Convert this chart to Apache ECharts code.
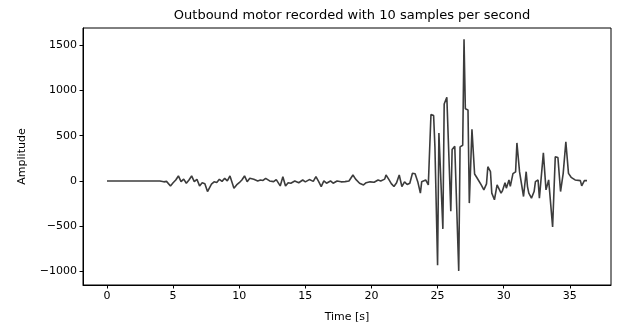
<!DOCTYPE html>
<html>
<head>
<meta charset="utf-8">
<script src="https://cdn.jsdelivr.net/npm/echarts@6/dist/echarts.min.js"></script>
<style>
html,body{margin:0;padding:0;background:#fff;}
#chart{width:617px;height:329px;}
</style>
</head>
<body>
<div id="chart"></div>
<script>
// Time stamps (s) of the vertices read from the recording
const times = [
  0.0, 4.0, 4.3, 4.5, 4.8, 5.0, 5.2, 5.4, 5.6, 5.8, 6.0, 6.2, 6.4, 6.6, 6.8, 7.0, 7.2, 7.4, 7.6, 7.9,
  8.1, 8.3, 8.5, 8.7, 8.9, 9.1, 9.3, 9.6, 9.8, 10.0, 10.2, 10.4, 10.6, 10.8, 11.1, 11.4, 11.6, 11.8, 12.0, 12.3,
  12.6, 12.8, 13.1, 13.3, 13.5, 13.7, 13.9, 14.2, 14.5, 14.8, 15.0, 15.3, 15.6, 15.8, 16.0, 16.2, 16.4, 16.6, 16.9, 17.1,
  17.4, 17.7, 18.0, 18.3, 18.6, 18.8, 18.9, 19.1, 19.4, 19.6, 19.9, 20.2, 20.5, 20.7, 21.0, 21.1, 21.3, 21.5, 21.7, 21.9,
  22.1, 22.3, 22.5, 22.7, 22.9, 23.1, 23.3, 23.5, 23.7, 23.8, 24.1, 24.3, 24.4, 24.5, 24.7, 24.8, 24.9, 25.0, 25.1, 25.2,
  25.4, 25.5, 25.7, 25.8, 26.0, 26.1, 26.3, 26.4, 26.6, 26.7, 26.9, 27.0, 27.1, 27.3, 27.4, 27.6, 27.7, 27.8, 28.0, 28.3,
  28.5, 28.7, 28.8, 29.0, 29.1, 29.3, 29.5, 29.6, 29.8, 29.9, 30.1, 30.2, 30.4, 30.5, 30.7, 30.9, 31.0, 31.2, 31.3, 31.5,
  31.7, 31.8, 31.9, 32.1, 32.3, 32.4, 32.6, 32.7, 33.0, 33.2, 33.4, 33.7, 33.9, 34.1, 34.3, 34.5, 34.7, 34.9, 35.1, 35.4,
  35.8, 35.9, 36.1, 36.3
];
// Amplitude at each of those time stamps
const amplitude = [
  0, 0, -10, -5, -55, -20, 10, 55, -8, 20, -25, 10, 55, -8, 18, -55, -20, -30, -117, -36,
  -10, -18, 18, -5, 29, 0, 55, -80, -44, -20, 10, 55, -8, 29, 18, 0, 10, 5, 29, 0,
  -8, 15, -55, 47, -55, -20, -25, 0, -20, 10, -10, 15, -5, 47, -5, -62, 0, -25, 0, -25,
  0, -10, -8, 0, 66, 20, 40, -25, -44, -20, -10, -15, 10, 0, 20, 66, 20, -30, -62, -20,
  66, -62, -10, -40, -25, 84, 80, -8, -135, -8, 11, -44, -55, 734, 723, 376, 358, -932, 530, 508,
  -530, 851, 924, 924, -336, 347, 383, 376, -994, 376, 394, 1565, 797, 785, -245, 570, 559, 77, 30, -44,
  -99, -33, 157, 102, -135, -208, -44, -40, -135, -110, -20, -80, 10, -60, 80, 100, 420, 100, 84, -172,
  102, -62, -135, -190, -117, -8, 11, -190, 310, -99, 11, -508, 266, 259, -117, 84, 431, 84, 40, 11,
  3, -55, 3, 3
];
const xTicks = [0, 5, 10, 15, 20, 25, 30, 35];
const yTicks = [-1000, -500, 0, 500, 1000, 1500];

const chart = echarts.init(document.getElementById('chart'), null, {renderer: 'canvas'});
const fmt = v => String(v).replace('-', '\u2212');
const FONT = 'DejaVu Sans';
chart.setOption({
  animation: false,
  title: {
    text: 'Outbound motor recorded with 10 samples per second',
    left: 347, top: 4, textAlign: 'center',
    textStyle: {fontFamily: FONT, fontSize: 13, fontWeight: 'normal', color: '#000'}
  },
  grid: {left: 83, right: 6, top: 28, bottom: 44, show: true, borderColor: '#000', borderWidth: 1, backgroundColor: 'transparent'},
  xAxis: {
    type: 'value', min: -1.815, max: 38.115,
    name: 'Time [s]', nameLocation: 'middle', nameGap: 27,
    nameTextStyle: {fontFamily: FONT, fontSize: 11, color: '#000'},
    axisLine: {show: true, onZero: false, lineStyle: {color: '#000', width: 1}},
    axisTick: {show: true, inside: false, length: 3.5, lineStyle: {color: '#000'}, customValues: xTicks},
    axisLabel: {fontFamily: FONT, fontSize: 11, color: '#000', margin: 6, customValues: xTicks, formatter: fmt},
    splitLine: {show: false}
  },
  yAxis: {
    type: 'value', min: -1150, max: 1690,
    name: 'Amplitude', nameLocation: 'middle', nameGap: 55,
    nameTextStyle: {fontFamily: FONT, fontSize: 11, color: '#000'},
    axisLine: {show: true, onZero: false, lineStyle: {color: '#000', width: 1}},
    axisTick: {show: true, inside: false, length: 3.5, lineStyle: {color: '#000'}, customValues: yTicks},
    axisLabel: {fontFamily: FONT, fontSize: 11, color: '#000', margin: 6, customValues: yTicks, formatter: fmt},
    splitLine: {show: false}
  },
  series: [{
    type: 'line',
    data: times.map((t, i) => [t, amplitude[i]]),
    showSymbol: false,
    lineStyle: {color: '#3c3c3c', width: 1.6},
    emphasis: {disabled: true}
  }]
});
</script>
</body>
</html>
